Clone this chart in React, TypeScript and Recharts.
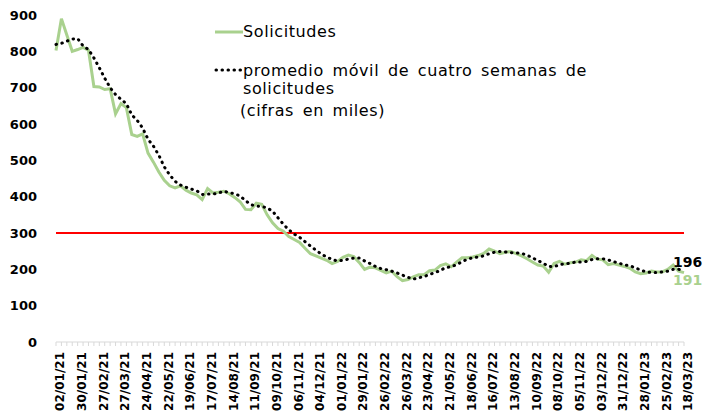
import React from 'react'
import {
  ComposedChart, Line, XAxis, YAxis, ReferenceLine, LabelList,
} from 'recharts'

// weekly initial claims (thousands), 02/01/21 .. 18/03/23
const solicitudes = [
  802, 890, 845, 800, 805, 811, 803, 703, 702, 695,
  697, 628, 656, 645, 571, 566, 573, 520, 495, 468,
  445, 430, 424, 430, 418, 410, 405, 392, 422, 410,
  412, 415, 408, 398, 386, 365, 364, 382, 379, 350,
  328, 312, 305, 290, 282, 274, 258, 243, 237, 231,
  225, 216, 222, 233, 239, 235, 219, 200, 206, 204,
  197, 190, 195, 180, 169, 172, 179, 185, 185, 196,
  198, 210, 215, 207, 220, 232, 232, 234, 238, 244,
  256, 250, 243, 247, 249, 243, 237, 229, 220, 212,
  209, 192, 216, 222, 214, 218, 220, 226, 224, 238,
  228, 226, 213, 216, 212, 208, 203, 193, 188, 190,
  195, 193, 193, 200, 212, 195, 191,
]

// four-week moving average
const promedio = [
  819, 822, 828, 834, 835, 815, 805, 782, 755, 726,
  700, 681, 668, 656, 625, 610, 589, 558, 539, 514,
  482, 460, 442, 432, 426, 421, 416, 406, 407, 407,
  410, 415, 411, 408, 402, 389, 378, 374, 373, 369,
  360, 342, 324, 309, 297, 288, 276, 264, 253, 242,
  234, 227, 223, 225, 228, 231, 231, 223, 216, 208,
  202, 199, 195, 190, 184, 178, 173, 177, 180, 186,
  191, 197, 205, 207, 213, 221, 228, 232, 234, 237,
  243, 247, 249, 248, 246, 245, 244, 239, 232, 224,
  217, 208, 207, 213, 215, 217, 220, 220, 222, 227,
  229, 229, 226, 221, 217, 212, 210, 204, 198, 193,
  191, 191, 193, 195, 200, 200, 196,
]

const xLabels = [
  '02/01/21', '30/01/21', '27/02/21', '27/03/21', '24/04/21', '22/05/21',
  '19/06/21', '17/07/21', '14/08/21', '11/09/21', '09/10/21', '06/11/21',
  '04/12/21', '01/01/22', '29/01/22', '26/02/22', '26/03/22', '23/04/22',
  '21/05/22', '18/06/22', '16/07/22', '13/08/22', '10/09/22', '08/10/22',
  '05/11/22', '03/12/22', '31/12/22', '28/01/23', '25/02/23', '18/03/23',
]

const yTicks = [0, 100, 200, 300, 400, 500, 600, 700, 800, 900]
const umbral = 300

const data = solicitudes.map((s, i) => ({ i, s, m: promedio[i] }))
const last = data.length - 1
const allTicks = data.map((d) => d.i)

const GREEN = '#a9d18e'
const FONT = '"DejaVu Sans", sans-serif'

function XTick(props: any) {
  const { x, y, payload } = props
  const i = payload.value
  const label = i % 4 === 0 ? xLabels[i / 4] : ''
  const tx = x + 4
  const ty = y + 10
  return (
    <g>
      <line x1={x} x2={x} y1={y} y2={y + 4} stroke="#d9d9d9" strokeWidth={1} />
      {label && (
        <text x={tx} y={ty} dy="0.36em" textAnchor="end" transform={`rotate(-90, ${tx}, ${ty})`}
          fontFamily={FONT} fontWeight="bold" fontSize={12} fill="#000">{label}</text>
      )}
    </g>
  )
}

// value printed next to the last point of each series
const endLabel = (color: string, dy: number) => (p: any) => {
  if (p.index !== last) return null
  return (
    <text x={p.x - 11} y={p.y + dy} fontFamily={FONT} fontWeight="bold" fontSize={14} fill={color}>
      {p.value}
    </text>
  )
}

export default function App() {
  const legendText: React.CSSProperties = {
    position: 'absolute', fontFamily: FONT, fontSize: 16, letterSpacing: 0.6, wordSpacing: 3,
    lineHeight: '18px', color: '#000', whiteSpace: 'nowrap',
  }
  return (
    <div style={{ position: 'absolute', left: 0, top: 0, width: 704, height: 414, background: '#fff' }}>
      <ComposedChart width={704} height={414} data={data} margin={{ top: 15, right: 20, left: 6, bottom: 0 }}>
        <XAxis dataKey="i" type="number" domain={[0, last]} ticks={allTicks} interval={0}
          height={72} tickLine={false} tickSize={0} tickMargin={0}
          axisLine={{ stroke: '#d9d9d9' }} tick={<XTick />} />
        <YAxis domain={[0, 900]} ticks={yTicks} width={50} axisLine={false} tickLine={false}
          tickSize={0} tickMargin={19}
          tick={{ fill: '#000', fontSize: 13, fontWeight: 'bold', fontFamily: FONT }} />
        <ReferenceLine y={umbral} stroke="#ff0000" strokeWidth={2} />
        <Line dataKey="s" type="linear" stroke={GREEN} strokeWidth={3} dot={false} isAnimationActive={false}>
          <LabelList dataKey="s" content={endLabel(GREEN, 12)} />
        </Line>
        <Line dataKey="m" type="linear" stroke="#000" strokeWidth={3} strokeDasharray="0.5 5.5"
          strokeLinecap="round" dot={false} isAnimationActive={false}>
          <LabelList dataKey="m" content={endLabel('#000', -4)} />
        </Line>
      </ComposedChart>

      <svg style={{ position: 'absolute', left: 213, top: 22 }} width={32} height={60}>
        <line x1={2} x2={30} y1={10} y2={10} stroke={GREEN} strokeWidth={3} />
        <line x1={3} x2={28} y1={48} y2={48} stroke="#000" strokeWidth={3} strokeDasharray="0.5 5.5" strokeLinecap="round" />
      </svg>
      <div style={{ ...legendText, left: 243, top: 23 }}>Solicitudes</div>
      <div style={{ ...legendText, left: 243, top: 62 }}>promedio móvil de cuatro semanas de</div>
      <div style={{ ...legendText, left: 243, top: 80 }}>solicitudes</div>
      <div style={{ ...legendText, left: 240, top: 102 }}>(cifras en miles)</div>
    </div>
  )
}
